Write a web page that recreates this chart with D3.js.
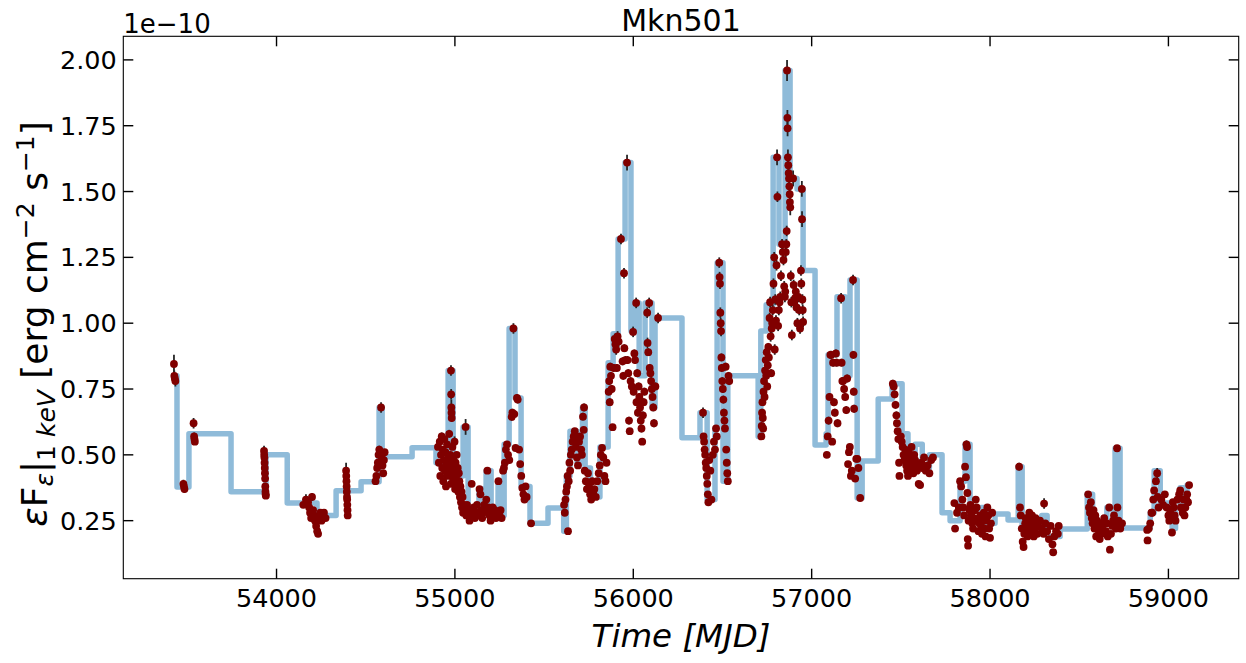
<!DOCTYPE html>
<html><head><meta charset="utf-8">
<script src="https://cdn.jsdelivr.net/npm/d3@7"></script>
<style>body{margin:0;background:#fff}svg{display:block}text{font-family:"DejaVu Sans",sans-serif}</style>
</head><body>
<svg id="chart" width="1246" height="663"></svg>
<script>
// ---- data (MJD, flux in units of 1e-10 erg cm^-2 s^-1, error) ----
const title = "Mkn501";
const xTicks = [54000, 55000, 56000, 57000, 58000, 59000];
const yTicks = [0.25, 0.50, 0.75, 1.00, 1.25, 1.50, 1.75, 2.00];

// Bayesian-block step: block start times and block values
const blockStart = [53425,53442,53509,53745,53941,54060,54227,54334,54474,54575,54592,54760,54894,54962,54990,55046,55074,55135,55160,55175,55203,55242,55265,55276,55304,55337,55371,55421,55522,55610,55625,55645,55685,55715,55730,55760,55813,55859,55887,55915,55954,55987,56005,56033,56066,56105,56122,56273,56374,56414,56458,56470,56503,56530,56700,56715,56745,56784,56817,56851,56879,56918,56952,57019,57081,57092,57142,57187,57215,57255,57283,57373,57451,57507,57540,57580,57620,57660,57731,57776,57832,57860,57888,57950,57980,58028,58101,58158,58180,58290,58320,58393,58545,58575,58655,58690,58701,58729,58898,58920,58954,59021,59040,59066,59085,59105,59116];
const blockValue = [0.80,0.378,0.58,0.36,0.50,0.317,0.27,0.364,0.398,0.68,0.493,0.527,0.47,0.82,0.42,0.606,0.29,0.37,0.29,0.44,0.29,0.40,0.27,0.54,0.98,0.716,0.38,0.24,0.298,0.21,0.42,0.59,0.47,0.68,0.45,0.34,0.53,0.85,0.96,1.32,1.61,0.97,1.077,0.80,1.077,0.68,1.02,0.565,0.66,0.33,0.60,1.23,0.40,0.80,0.57,0.97,1.07,1.63,1.30,1.96,1.55,1.51,1.20,0.537,0.58,0.88,1.10,0.80,1.164,0.336,0.477,0.712,0.77,0.58,0.44,0.54,0.45,0.50,0.28,0.25,0.40,0.54,0.26,0.30,0.24,0.275,0.253,0.455,0.22,0.27,0.19,0.218,0.35,0.24,0.30,0.24,0.525,0.222,0.28,0.44,0.317,0.22,0.30,0.375,0.32,0.385,0.385];

// observations [MJD, flux, error], by epoch
const obs2005to2008 = [
[53425,0.845,0.035],[53427,0.80,0.02],[53430,0.79,0.02],[53433,0.78,0.02],
[53478,0.39,0.015],[53481,0.38,0.01],[53484,0.37,0.015],
[53535,0.62,0.02],[53538,0.57,0.015],[53540,0.56,0.01],[53542,0.55,0.01],
[53930,0.515,0.02],[53931,0.50,0.01],[53932,0.49,0.01],[53933,0.47,0.01],[53934,0.45,0.01],[53935,0.43,0.01],[53936,0.41,0.01],[53937,0.38,0.01],[53938,0.36,0.01],[53939,0.35,0.01],[53940,0.345,0.01],
[54150,0.31,0.01],[54165,0.33,0.02],[54177,0.32,0.01],[54183,0.30,0.01],[54188,0.28,0.01],[54194,0.26,0.01],[54199,0.34,0.015],[54205,0.29,0.01],[54210,0.27,0.01],[54216,0.25,0.01],[54222,0.23,0.01],[54228,0.21,0.01],[54233,0.20,0.01],[54240,0.26,0.01],[54246,0.28,0.01],[54252,0.25,0.01],[54258,0.27,0.01],[54266,0.28,0.01],[54275,0.26,0.01],
[54390,0.44,0.03],[54391,0.42,0.01],[54392,0.40,0.01],[54393,0.38,0.01],[54394,0.36,0.01],[54395,0.34,0.01],[54396,0.33,0.01],[54397,0.31,0.01],[54398,0.29,0.01],[54399,0.27,0.01],
[54555,0.40,0.01],[54560,0.42,0.01],[54564,0.45,0.01],[54568,0.47,0.01],[54572,0.50,0.01],[54576,0.52,0.015],[54586,0.68,0.02],[54590,0.49,0.01],[54594,0.46,0.01],[54598,0.43,0.01],[54602,0.48,0.01],[54606,0.51,0.01]
];
const obs2009to2011 = [
[54905,0.53,0.01],[54910,0.47,0.01],[54915,0.55,0.01],[54918,0.42,0.01],[54922,0.50,0.01],[54926,0.57,0.015],[54929,0.45,0.01],[54932,0.52,0.01],[54935,0.40,0.01],[54938,0.48,0.01],[54941,0.56,0.01],[54944,0.44,0.01],[54947,0.51,0.01],[54950,0.38,0.01],[54953,0.47,0.01],[54956,0.54,0.01],[54959,0.42,0.01],[54962,0.49,0.01],[54965,0.45,0.01],[54968,0.58,0.015],[54971,0.43,0.01],[54974,0.50,0.01],[54977,0.39,0.01],[54978,0.82,0.02],[54979,0.73,0.02],[54980,0.68,0.03],[54981,0.66,0.015],[54982,0.64,0.015],[54983,0.46,0.01],[54986,0.53,0.01],[54989,0.41,0.01],[54992,0.48,0.01],[54995,0.44,0.01],[54998,0.55,0.02],[55001,0.37,0.01],[55004,0.47,0.01],[55007,0.42,0.01],[55010,0.50,0.01],[55013,0.39,0.01],[55016,0.45,0.01],[55019,0.36,0.01],[55022,0.43,0.01],[55025,0.40,0.01],[55028,0.34,0.01],[55031,0.38,0.01],[55034,0.32,0.01],[55037,0.36,0.01],[55040,0.30,0.01],[55043,0.34,0.01],[55046,0.28,0.01],[55050,0.31,0.01],[55055,0.29,0.01],[55060,0.606,0.03],[55064,0.27,0.01],[55068,0.31,0.01],
[55075,0.27,0.01],[55082,0.25,0.01],[55088,0.29,0.01],[55094,0.39,0.01],[55100,0.27,0.01],[55106,0.30,0.01],[55112,0.26,0.01],[55118,0.28,0.01],[55124,0.31,0.01],[55130,0.27,0.01],[55138,0.37,0.01],[55143,0.35,0.01],[55148,0.29,0.01],[55153,0.26,0.01],[55158,0.28,0.01],[55164,0.31,0.01],[55170,0.29,0.01],[55176,0.33,0.01],[55182,0.44,0.01],[55188,0.30,0.01],[55194,0.27,0.01],[55200,0.25,0.01],[55206,0.28,0.01],[55212,0.30,0.01],[55218,0.27,0.01],[55224,0.29,0.01],[55230,0.26,0.01],[55236,0.28,0.01],[55244,0.40,0.01],[55250,0.27,0.01],[55256,0.29,0.01],[55262,0.26,0.01],
[55270,0.44,0.01],[55275,0.45,0.01],[55280,0.47,0.01],[55286,0.52,0.01],[55292,0.54,0.01],[55298,0.50,0.01],[55305,0.48,0.01],[55318,0.644,0.015],[55322,0.66,0.015],[55328,0.98,0.02],[55333,0.655,0.015],[55340,0.526,0.01],[55348,0.716,0.015],[55352,0.71,0.015],[55360,0.52,0.01],[55366,0.465,0.01],[55372,0.42,0.01],[55378,0.374,0.01],[55384,0.35,0.01],[55390,0.33,0.01],[55396,0.38,0.01],[55402,0.34,0.01],[55427,0.24,0.01],
[55612,0.31,0.01],[55616,0.28,0.01],[55620,0.33,0.01],[55624,0.36,0.01],[55628,0.38,0.01],[55632,0.42,0.01],[55634,0.21,0.01],[55638,0.40,0.01],[55642,0.47,0.01],[55646,0.44,0.01],[55650,0.50,0.01],[55655,0.52,0.01],[55660,0.55,0.01],[55666,0.57,0.01],[55672,0.59,0.01],[55678,0.53,0.01],[55684,0.49,0.01],[55690,0.46,0.01],[55696,0.55,0.01],[55702,0.57,0.01],[55708,0.52,0.01],[55712,0.50,0.01],[55718,0.645,0.015],[55722,0.595,0.01],[55724,0.68,0.015],[55728,0.44,0.01],[55734,0.40,0.01],[55740,0.37,0.01],[55746,0.43,0.01],[55752,0.38,0.01],[55758,0.35,0.01],[55764,0.33,0.01],[55770,0.40,0.01],[55776,0.36,0.01],[55782,0.37,0.01],[55790,0.34,0.01],[55798,0.40,0.01],[55806,0.43,0.01],[55812,0.46,0.01],[55818,0.50,0.01],[55825,0.526,0.01],[55832,0.49,0.01],[55838,0.42,0.01],[55844,0.40,0.01],[55850,0.47,0.01],
[55862,0.74,0.015],[55865,0.78,0.015],[55868,0.70,0.015],[55871,0.835,0.015],[55875,0.80,0.015],[55879,0.75,0.015],[55884,0.605,0.01],[55890,0.83,0.015],[55896,0.94,0.02],[55900,0.92,0.02],[55904,0.90,0.02],[55908,0.83,0.015],[55912,0.95,0.02],[55918,0.93,0.02],[55931,1.32,0.02],[55940,0.855,0.015],[55944,0.80,0.015],[55948,1.19,0.02],[55950,0.905,0.015],[55956,0.86,0.015],[55965,1.61,0.03],[55968,0.86,0.015],[55972,0.81,0.015],[55976,0.63,0.015],[55980,0.59,0.01],[55985,0.78,0.015],[55992,0.76,0.015],[55999,0.967,0.02],[56002,0.74,0.015],[56006,0.885,0.015],[56010,0.86,0.015],[56016,1.077,0.02],[56018,0.70,0.015],[56022,0.81,0.015],[56026,0.66,0.015],[56030,0.76,0.015],[56034,0.72,0.015],[56038,0.68,0.015],[56042,0.63,0.015],[56046,0.60,0.015],[56050,0.55,0.01],[56054,0.65,0.015],[56058,0.70,0.015],[56062,0.74,0.015],[56078,1.04,0.02],[56080,0.925,0.02],[56084,0.89,0.015],[56089,1.077,0.02],[56092,0.83,0.015],[56096,0.81,0.015],[56100,0.78,0.015],[56104,0.75,0.015],[56108,0.72,0.015],[56112,0.68,0.015],[56116,0.62,0.015],[56124,0.76,0.015],[56139,1.02,0.02]
];
const obs2013to2015 = [
[56391,0.66,0.02],[56394,0.57,0.01],[56397,0.55,0.01],[56400,0.52,0.01],[56403,0.50,0.01],[56406,0.47,0.01],[56409,0.45,0.01],[56412,0.42,0.01],[56415,0.39,0.01],[56418,0.35,0.01],[56421,0.32,0.01],[56426,0.48,0.01],[56432,0.44,0.01],[56438,0.33,0.01],[56446,0.50,0.01],[56452,0.55,0.01],[56458,0.52,0.01],[56464,0.60,0.01],[56468,0.57,0.01],[56482,1.23,0.02],[56484,1.175,0.02],[56486,1.15,0.02],[56488,1.04,0.02],[56490,1.00,0.02],[56492,0.97,0.02],[56494,0.87,0.015],[56496,0.83,0.015],[56499,0.78,0.015],[56502,0.75,0.015],[56505,0.71,0.015],[56508,0.66,0.015],[56511,0.63,0.015],[56514,0.60,0.01],[56518,0.835,0.015],[56521,0.52,0.01],[56524,0.47,0.01],[56527,0.43,0.01],[56530,0.40,0.01],[56534,0.80,0.015],[56538,0.78,0.015],
[56718,0.57,0.01],[56720,0.61,0.01],[56722,0.66,0.015],[56724,0.70,0.015],[56726,0.64,0.015],[56728,0.60,0.01],[56730,0.74,0.015],[56733,0.78,0.015],[56736,0.72,0.015],[56739,0.82,0.015],[56742,0.86,0.015],[56745,0.80,0.015],[56748,0.89,0.015],[56751,0.76,0.015],[56754,0.84,0.015],[56757,0.91,0.015],[56760,0.87,0.015],[56764,1.02,0.02],[56767,1.08,0.02],[56770,0.95,0.02],[56773,0.81,0.015],[56776,0.98,0.02],[56779,1.00,0.02],[56782,1.05,0.02],[56786,1.15,0.02],[56790,1.25,0.02],[56793,0.90,0.02],[56796,1.09,0.02],[56800,1.01,0.02],[56803,1.22,0.02],[56806,1.63,0.03],[56808,1.48,0.02],[56812,0.99,0.02],[56816,1.05,0.02],[56820,1.08,0.02],[56824,1.10,0.02],[56828,1.18,0.02],[56834,1.30,0.02],[56838,1.27,0.02],[56842,1.24,0.02],[56846,1.14,0.02],[56850,1.10,0.02],[56852,1.12,0.02],[56855,1.27,0.02],[56858,1.30,0.02],[56860,1.35,0.02],[56862,1.96,0.04],[56864,1.78,0.03],[56865,1.74,0.03],[56867,1.63,0.03],[56869,1.60,0.03],[56871,1.57,0.03],[56873,1.55,0.03],[56875,1.52,0.03],[56877,1.49,0.03],[56878,1.46,0.03],[56880,1.44,0.03],[56883,1.18,0.02],[56886,1.08,0.02],[56889,0.955,0.02],[56896,1.55,0.03],[56899,1.145,0.02],[56903,1.08,0.02],[56907,1.095,0.02],[56911,1.12,0.02],[56915,1.06,0.02],[56920,1.00,0.02],[56925,1.10,0.02],[56930,1.05,0.02],[56935,0.98,0.02],[56940,1.20,0.02],[56942,1.15,0.02],[56945,1.51,0.03],[56946,1.395,0.03],[56948,1.09,0.02],[56950,1.05,0.02],[56952,1.005,0.02],
[57085,0.50,0.01],[57090,0.57,0.01],[57095,0.63,0.015],[57100,0.72,0.015],[57105,0.88,0.015],[57110,0.88,0.015],[57115,0.55,0.01],[57120,0.85,0.015],[57125,0.70,0.015],[57130,0.66,0.015],[57136,0.885,0.015],[57140,0.85,0.015],[57145,0.62,0.015],[57165,1.095,0.02],[57168,0.85,0.015],[57172,0.78,0.015],[57176,0.78,0.015],[57182,0.75,0.015],[57188,0.72,0.015],[57194,0.67,0.015],[57199,0.79,0.015],[57204,0.465,0.01],[57209,0.51,0.01],[57214,0.53,0.01],[57220,0.42,0.01],[57225,0.44,0.01],[57232,1.164,0.02],[57234,0.88,0.015],[57236,0.74,0.015],[57238,0.675,0.015],[57244,0.41,0.01],[57250,0.485,0.01],[57256,0.485,0.01],[57262,0.45,0.01],[57272,0.336,0.01]
];
const obs2016to2020 = [
[57455,0.77,0.015],[57460,0.76,0.015],[57465,0.73,0.015],[57470,0.69,0.015],[57475,0.65,0.015],[57478,0.62,0.01],[57482,0.59,0.01],[57486,0.56,0.01],[57490,0.47,0.01],[57492,0.42,0.01],[57500,0.57,0.01],[57505,0.55,0.01],[57510,0.53,0.01],[57515,0.50,0.01],[57520,0.48,0.01],[57525,0.52,0.01],[57530,0.46,0.01],[57535,0.44,0.01],[57540,0.42,0.01],[57545,0.51,0.01],[57550,0.49,0.01],[57555,0.47,0.01],[57560,0.53,0.01],[57565,0.45,0.01],[57570,0.43,0.01],[57575,0.50,0.01],[57580,0.48,0.01],[57585,0.46,0.01],[57590,0.44,0.01],[57600,0.39,0.01],[57608,0.385,0.01],[57615,0.47,0.01],[57620,0.45,0.01],[57630,0.49,0.01],[57640,0.44,0.01],[57650,0.46,0.01],[57660,0.43,0.01],[57670,0.48,0.01],[57680,0.49,0.01],
[57800,0.317,0.01],[57804,0.22,0.01],[57815,0.28,0.01],[57825,0.30,0.01],[57832,0.40,0.01],[57838,0.38,0.01],[57845,0.33,0.01],[57850,0.30,0.01],[57855,0.27,0.01],[57860,0.455,0.01],[57865,0.415,0.01],[57868,0.54,0.015],[57871,0.53,0.015],[57873,0.355,0.01],[57875,0.18,0.01],[57877,0.155,0.01],[57880,0.25,0.01],[57885,0.29,0.01],[57890,0.31,0.01],[57895,0.27,0.01],[57900,0.24,0.01],[57905,0.22,0.01],[57910,0.26,0.01],[57915,0.29,0.01],[57920,0.33,0.01],[57925,0.30,0.01],[57930,0.25,0.01],[57935,0.21,0.01],[57940,0.24,0.01],[57945,0.27,0.01],[57950,0.23,0.01],[57955,0.20,0.01],[57960,0.26,0.01],[57965,0.28,0.01],[57970,0.22,0.01],[57975,0.19,0.01],[57980,0.25,0.01],[57985,0.30,0.01],[57990,0.27,0.01],[57995,0.22,0.01],[58000,0.185,0.01],[58005,0.24,0.01],[58012,0.28,0.01],
[58163,0.455,0.015],[58168,0.30,0.01],[58172,0.27,0.01],[58178,0.22,0.01],[58183,0.17,0.01],[58188,0.15,0.01],[58192,0.20,0.01],[58197,0.24,0.01],[58200,0.26,0.01],[58205,0.22,0.01],[58210,0.19,0.01],[58215,0.25,0.01],[58220,0.28,0.01],[58225,0.23,0.01],[58230,0.21,0.01],[58235,0.27,0.01],[58240,0.24,0.01],[58245,0.19,0.01],[58250,0.22,0.01],[58255,0.26,0.01],[58260,0.24,0.01],[58265,0.20,0.01],[58270,0.23,0.01],[58280,0.25,0.01],[58290,0.22,0.01],[58300,0.20,0.01],[58303,0.315,0.02],[58310,0.24,0.01],[58320,0.21,0.01],[58330,0.18,0.01],[58340,0.23,0.01],[58350,0.16,0.01],[58354,0.13,0.01],[58360,0.19,0.01],[58370,0.21,0.01],[58380,0.20,0.01],[58385,0.23,0.01],
[58550,0.35,0.01],[58555,0.30,0.01],[58560,0.28,0.01],[58565,0.32,0.01],[58570,0.26,0.01],[58575,0.24,0.01],[58580,0.29,0.01],[58585,0.22,0.01],[58590,0.27,0.01],[58595,0.19,0.01],[58600,0.25,0.01],[58605,0.23,0.01],[58610,0.21,0.01],[58615,0.18,0.01],[58620,0.24,0.01],[58625,0.20,0.01],[58630,0.22,0.01],[58640,0.26,0.01],[58650,0.21,0.01],[58655,0.24,0.01],[58660,0.19,0.01],[58668,0.30,0.01],[58672,0.14,0.01],[58678,0.20,0.01],[58685,0.23,0.01],[58690,0.25,0.01],[58695,0.27,0.01],[58700,0.24,0.01],[58705,0.22,0.01],[58712,0.525,0.01],[58714,0.30,0.01],[58720,0.25,0.01],[58725,0.23,0.01],[58730,0.22,0.01],[58740,0.24,0.01],
[58881,0.215,0.01],[58883,0.175,0.01],[58890,0.22,0.01],[58898,0.24,0.01],[58905,0.28,0.01],[58909,0.28,0.01],[58915,0.33,0.01],[58920,0.365,0.01],[58930,0.40,0.01],[58937,0.43,0.02],[58940,0.34,0.01],[58945,0.30,0.01],[58960,0.33,0.01],[58970,0.31,0.01],[58980,0.35,0.01],[58990,0.30,0.01],[59000,0.27,0.01],[59005,0.25,0.01],[59010,0.29,0.01],[59020,0.205,0.01],[59025,0.32,0.01],[59030,0.30,0.01],[59035,0.27,0.01],[59040,0.25,0.01],[59050,0.33,0.01],[59060,0.35,0.01],[59066,0.365,0.01],[59070,0.30,0.01],[59080,0.28,0.01],[59085,0.33,0.01],[59090,0.27,0.01],[59095,0.30,0.01],[59100,0.33,0.01],[59105,0.35,0.01],[59110,0.32,0.01],[59116,0.385,0.01]
];

// ---- layout ----
const svg = d3.select("#chart");
const M = {left: 123.3, right: 1238.7, top: 36.3, bottom: 578.7};
const x = d3.scaleLinear().domain([53141, 59394]).range([M.left, M.right]);
const y = d3.scaleLinear().domain([0.0296, 2.0896]).range([M.bottom, M.top]);

const plot = svg.append("g");
plot.append("clipPath").attr("id","clip").append("rect")
  .attr("x", M.left).attr("y", M.top).attr("width", M.right-M.left).attr("height", M.bottom-M.top);
const inner = plot.append("g").attr("clip-path","url(#clip)");

// step line
const blocks = blockStart.map((t,i)=>[t, blockValue[i]]);
const line = d3.line().x(d=>x(d[0])).y(d=>y(d[1])).curve(d3.curveStepAfter);
inner.append("path").datum(blocks).attr("d", line)
  .attr("fill","none").attr("stroke","#8fbbd9").attr("stroke-width",5.5)
  .attr("stroke-linejoin","round").attr("stroke-linecap","square");

const allObs = [].concat(obs2005to2008, obs2009to2011, obs2013to2015, obs2016to2020);
// error bars
inner.append("g").selectAll("line").data(allObs).join("line")
  .attr("x1", d=>x(d[0])).attr("x2", d=>x(d[0]))
  .attr("y1", d=>y(d[1]-d[2])).attr("y2", d=>y(d[1]+d[2]))
  .attr("stroke","#262626").attr("stroke-width",1.8);
// markers
inner.append("g").selectAll("circle").data(allObs).join("circle")
  .attr("cx", d=>x(d[0])).attr("cy", d=>y(d[1])).attr("r",3.9)
  .attr("fill","#800000");

// frame
svg.append("rect").attr("x",M.left).attr("y",M.top).attr("width",M.right-M.left).attr("height",M.bottom-M.top)
  .attr("fill","none").attr("stroke","#000").attr("stroke-width",1.1);

// ticks (inward, all four sides)
const tl = 10, tw = 1.4;
const tg = svg.append("g").attr("stroke","#000").attr("stroke-width",tw);
xTicks.forEach(t=>{
  tg.append("line").attr("x1",x(t)).attr("x2",x(t)).attr("y1",M.bottom).attr("y2",M.bottom-tl);
  tg.append("line").attr("x1",x(t)).attr("x2",x(t)).attr("y1",M.top).attr("y2",M.top+tl);
});
yTicks.forEach(t=>{
  tg.append("line").attr("x1",M.left).attr("x2",M.left+tl).attr("y1",y(t)).attr("y2",y(t));
  tg.append("line").attr("x1",M.right).attr("x2",M.right-tl).attr("y1",y(t)).attr("y2",y(t));
});
svg.append("g").selectAll("text").data(xTicks).join("text")
  .attr("x", d=>x(d)).attr("y", M.bottom+28.5).attr("text-anchor","middle")
  .attr("font-size",25.5).attr("fill","#000").text(d=>d);
svg.append("g").selectAll("text").data(yTicks).join("text")
  .attr("x", M.left-6.5).attr("y", d=>y(d)+9).attr("text-anchor","end")
  .attr("font-size",25.5).attr("fill","#000").text(d=>d.toFixed(2));

// offset text
svg.append("text").attr("x",M.left).attr("y",33).attr("font-size",26).text("1e\u221210");
// title
svg.append("text").attr("x",(M.left+M.right)/2).attr("y",31).attr("text-anchor","middle")
  .attr("font-size",30).text(title);
// x label
svg.append("text").attr("x",(M.left+M.right)/2).attr("y",647).attr("text-anchor","middle")
  .attr("font-size",32.5).attr("font-style","italic").text("Time [MJD]");
// y label
const yl = svg.append("text").attr("transform","translate(47,324) rotate(-90)")
  .attr("text-anchor","middle").attr("font-size",36);
yl.append("tspan").attr("font-style","italic").text("\u03b5");
yl.append("tspan").text("F");
yl.append("tspan").attr("font-style","italic").attr("font-size",25).attr("baseline-shift","-6").text("\u03b5");
yl.append("tspan").text("|");
yl.append("tspan").attr("font-size",25).attr("baseline-shift","-8").text("1 ");
yl.append("tspan").attr("font-size",25).attr("font-style","italic").attr("baseline-shift","-8").text("keV");
yl.append("tspan").text(" [erg cm");
yl.append("tspan").attr("font-size",25).attr("baseline-shift","13").text("\u22122");
yl.append("tspan").text(" s");
yl.append("tspan").attr("font-size",25).attr("baseline-shift","13").text("\u22121");
yl.append("tspan").text("]");
</script>
</body></html>
